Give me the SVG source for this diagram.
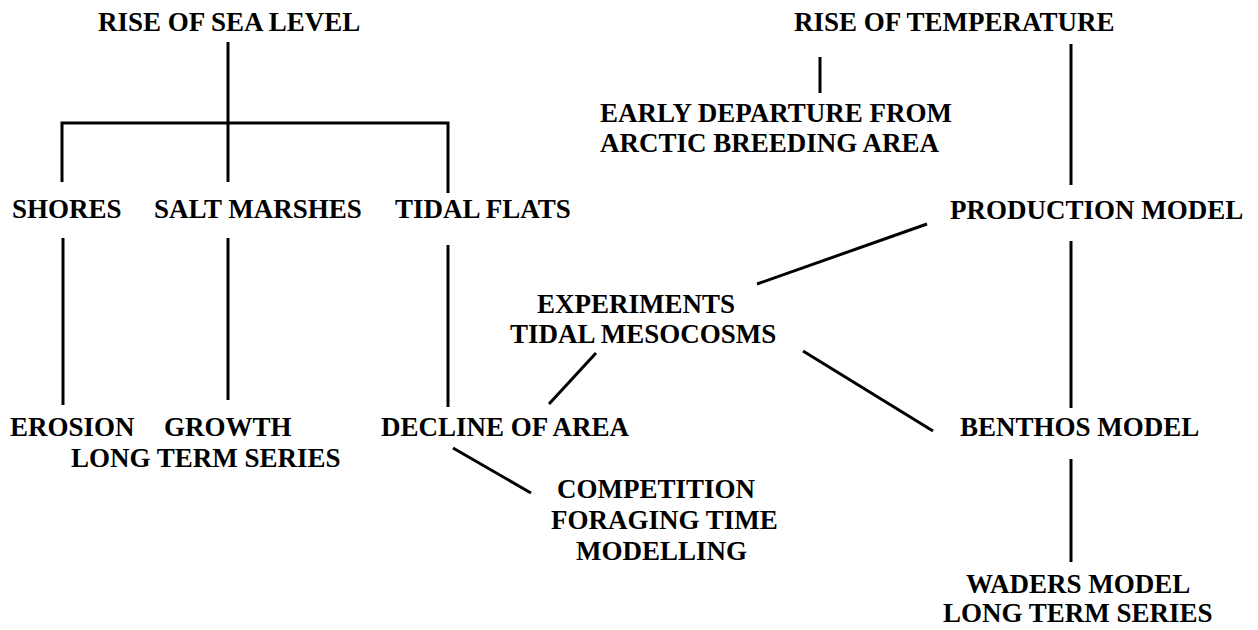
<svg xmlns="http://www.w3.org/2000/svg" width="1258" height="630" viewBox="0 0 1258 630">
<style>
text{font-family:"Liberation Serif","Times New Roman",serif;font-weight:bold;font-size:27px;fill:#000}
.c line,.c polyline{stroke:#000;stroke-width:3;fill:none;stroke-linecap:butt}
</style>
<rect width="1258" height="630" fill="#fff"/>
<g class="c" id="connectors">
<line x1="228" y1="42" x2="228" y2="182"/>
<polyline points="62,182 62,123 448,123 448,193"/>
<line x1="63" y1="238" x2="63" y2="405"/>
<line x1="228" y1="238" x2="228" y2="400"/>
<line x1="448" y1="245" x2="448" y2="407"/>
<line x1="820" y1="57" x2="820" y2="93"/>
<line x1="1071" y1="44" x2="1071" y2="185"/>
<line x1="927" y1="224" x2="757" y2="284"/>
<line x1="1071" y1="241" x2="1071" y2="408"/>
<line x1="803" y1="351" x2="933" y2="431"/>
<line x1="596" y1="353" x2="549" y2="404"/>
<line x1="453" y1="448" x2="531" y2="493"/>
<line x1="1071" y1="459" x2="1071" y2="562"/>
</g>
<g id="sea"><text x="98" y="31">RISE OF SEA LEVEL</text></g>
<g id="temp"><text x="794" y="31">RISE OF TEMPERATURE</text></g>
<g id="early"><text x="600" y="122">EARLY DEPARTURE FROM</text><text x="600" y="152">ARCTIC BREEDING AREA</text></g>
<g id="shores"><text x="12" y="218">SHORES</text></g>
<g id="salt"><text x="154" y="218">SALT MARSHES</text></g>
<g id="tidal"><text x="395" y="218">TIDAL FLATS</text></g>
<g id="production"><text x="950" y="219">PRODUCTION MODEL</text></g>
<g id="experiments"><text x="537" y="313">EXPERIMENTS</text><text x="510" y="343">TIDAL MESOCOSMS</text></g>
<g id="erosion"><text x="10" y="436">EROSION</text></g>
<g id="growth"><text x="164" y="436">GROWTH</text><text x="71" y="467">LONG TERM SERIES</text></g>
<g id="decline"><text x="381" y="436">DECLINE OF AREA</text></g>
<g id="benthos"><text x="960" y="436">BENTHOS MODEL</text></g>
<g id="competition"><text x="557" y="498">COMPETITION</text><text x="551" y="529">FORAGING TIME</text><text x="576" y="560">MODELLING</text></g>
<g id="waders"><text x="966" y="593">WADERS MODEL</text><text x="943" y="622">LONG TERM SERIES</text></g>
</svg>
